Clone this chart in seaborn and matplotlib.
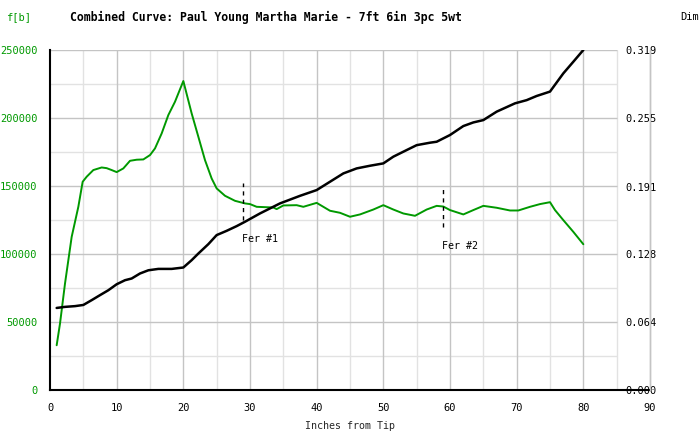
import matplotlib
matplotlib.use("Agg")
import matplotlib.pyplot as plt
import seaborn as sns
import pandas as pd

# ---- data ----
force_x = [1, 1.5, 2.25, 3.25, 4.25, 4.9, 5.5, 6.5, 7.75, 8.5, 9.25, 10, 11, 12, 13, 14, 15,
           15.75, 16.75, 17.75, 18.75, 20, 21.25, 22.25, 23.25, 24.25, 25, 26.25, 27.75,
           29.25, 30, 31, 33.5, 34, 35, 37, 38, 40, 42, 43.5, 45, 46.5, 48.5, 50, 51.5, 53,
           54.75, 56.5, 58, 59, 60, 62, 63.5, 65, 67, 69, 70.25, 72, 73.5, 75, 75.75, 77,
           78.5, 80]
force_lb = [33100, 49000, 78400, 112700, 134800, 153200, 156900, 161800, 163700, 163200,
            161800, 160300, 163000, 168600, 169400, 169600, 172800, 177700, 188700, 202200,
            212000, 227200, 203400, 186300, 169100, 155600, 148300, 142900, 139200, 137300,
            136800, 134800, 134300, 133100, 135800, 136000, 134800, 137700, 131900, 130400,
            127500, 129200, 132800, 136000, 132800, 129900, 128200, 132800, 135500, 135000,
            132400, 129200, 132400, 135500, 134100, 132100, 132100, 134800, 136800, 138200,
            132400, 125000, 116400, 107300]

dim_x = [1, 2.25, 3.75, 5, 6.25, 7.5, 8.75, 10, 11.25, 12.25, 13.5, 14.75, 16.25, 18.25, 20,
         21.25, 22.25, 23.75, 25, 26.5, 28, 29.25, 31.5, 34.5, 37.5, 40, 42, 44, 46, 48, 50,
         51.5, 53.5, 55, 57, 58, 60, 62, 63.5, 65, 67, 69.75, 71.5, 73, 75, 77, 78.5, 80]
dim_in = [0.0772, 0.0782, 0.0789, 0.0800, 0.0845, 0.0892, 0.0938, 0.0994, 0.1032, 0.1048,
          0.1095, 0.1125, 0.1138, 0.1138, 0.1151, 0.1220, 0.1282, 0.1370, 0.1455, 0.1495,
          0.1539, 0.1580, 0.1658, 0.1752, 0.1823, 0.1877, 0.1955, 0.2033, 0.2080, 0.2105,
          0.2127, 0.2190, 0.2252, 0.2298, 0.2321, 0.2330, 0.2393, 0.2477, 0.2511, 0.2533,
          0.2612, 0.2690, 0.2720, 0.2759, 0.2800, 0.2971, 0.3080, 0.3190]

ferrule_pos = [29, 59]
ferrule_labels = ["Fer #1", "Fer #2"]
ferrule_lo = [125000, 120000]
ferrule_hi = [152000, 149000]

x_ticks = [0, 10, 20, 30, 40, 50, 60, 70, 80, 90]
x_minor = [5, 15, 25, 35, 45, 55, 65, 75, 85]
y_ticks = [0, 50000, 100000, 150000, 200000, 250000]
y_minor = [25000, 75000, 125000, 175000, 225000]
dim_ticks = [0.0, 0.064, 0.128, 0.191, 0.255, 0.319]
dim_labels = ["0.000", "0.064", "0.128", "0.191", "0.255", "0.319"]

title = "Combined Curve: Paul Young Martha Marie - 7ft 6in 3pc 5wt"

# ---- style ----
sns.set_style("white")
plt.rcParams['font.family'] = ['DejaVu Sans Mono', 'DejaVu Sans']

GREEN = "#009900"
MAJ = "#c4c4c4"
MIN = "#e2e2e2"

fig = plt.figure(figsize=(7, 4.4), dpi=100)
ax = fig.add_axes([50 / 700, (440 - 390.3) / 440, 600 / 700, 340.3 / 440])
ax.set_xlim(0, 90)
ax.set_ylim(0, 250000)

# grid
ax.hlines(y_minor, 0, 85, color=MIN, lw=1, zorder=0)
ax.hlines(y_ticks[1:], 0, 85, color=MAJ, lw=1, zorder=0.5)
ax.vlines(x_minor, 0, 250000, color=MIN, lw=1, zorder=0)
ax.vlines(x_ticks[1:-1], 0, 250000, color=MAJ, lw=1, zorder=0.5)

df_f = pd.DataFrame({"x": force_x, "f": force_lb})
sns.lineplot(data=df_f, x="x", y="f", ax=ax, color=GREEN, lw=1.4, zorder=3)

for p, lo, hi, lab in zip(ferrule_pos, ferrule_lo, ferrule_hi, ferrule_labels):
    ax.vlines(p, lo, hi, color="black", lw=1, linestyles=(0, (3, 3)), zorder=4)
    ax.text(p - 0.2, lo - 10000, lab, fontsize=7.2, ha="left", va="top", color="black")

ax.set_xticks(x_ticks)
ax.set_xticklabels([str(t) for t in x_ticks])
ax.set_yticks(y_ticks)
ax.set_yticklabels([str(t) for t in y_ticks], color=GREEN)
ax.tick_params(axis="x", length=0, pad=9, labelsize=7.5, colors="black")
ax.tick_params(axis="y", length=0, pad=9, labelsize=7.5)
for lbl in ax.get_yticklabels():
    lbl.set_color(GREEN)
ax.set_xlabel("Inches from Tip", fontsize=7.2, labelpad=6)
ax.set_ylabel("")

for s in ["top"]:
    ax.spines[s].set_visible(False)
ax.spines["left"].set_color("black")
ax.spines["left"].set_linewidth(1.5)
ax.spines["bottom"].set_color("black")
ax.spines["bottom"].set_linewidth(1.5)
ax.spines["right"].set_color(MAJ)
ax.spines["right"].set_linewidth(1)

ax2 = ax.twinx()
ax2.set_ylim(0, 0.319)
df_d = pd.DataFrame({"x": dim_x, "d": dim_in})
sns.lineplot(data=df_d, x="x", y="d", ax=ax2, color="black", lw=1.8, zorder=3)
ax2.set_yticks(dim_ticks)
ax2.set_yticklabels(dim_labels)
ax2.tick_params(axis="y", length=0, pad=-18, labelsize=7.5, colors="black")
ax2.set_ylabel("")
for s in ["top", "left", "bottom"]:
    ax2.spines[s].set_visible(False)
ax2.spines["right"].set_color(MAJ)
ax2.spines["right"].set_linewidth(1)

fig.text(6 / 700, 1 - 17 / 440, "f[b]", color=GREEN, fontsize=7.5, va="center", ha="left")
fig.text(70 / 700, 1 - 17 / 440, title, color="black", fontsize=8.3, fontweight="bold",
         va="center", ha="left")
fig.text(680 / 700, 1 - 17 / 440, "Dim", color="black", fontsize=7.5, va="center", ha="left")

fig.savefig("out.png", dpi=100)
